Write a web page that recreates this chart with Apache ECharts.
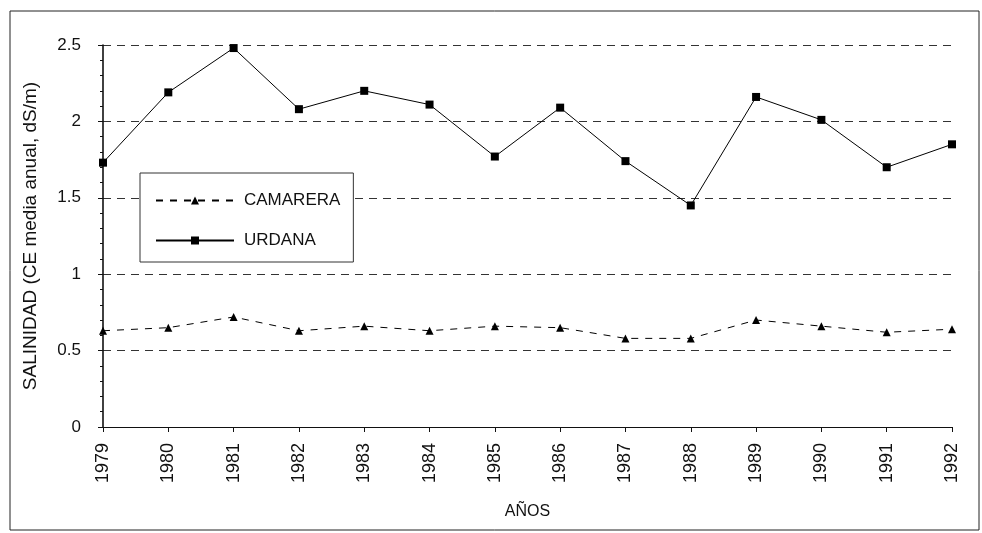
<!DOCTYPE html>
<html><head><meta charset="utf-8">
<script src="https://cdn.jsdelivr.net/npm/echarts@6/dist/echarts.min.js"></script>
<style>html,body{margin:0;padding:0;background:#fff}#c{width:982px;height:533px}</style>
</head><body><div id="c"></div>
<script>
const years = ['1979','1980','1981','1982','1983','1984','1985','1986','1987','1988','1989','1990','1991','1992'];
const camarera = [0.63,0.65,0.72,0.63,0.66,0.63,0.66,0.65,0.58,0.58,0.70,0.66,0.62,0.64];
const urdana = [1.73,2.19,2.48,2.08,2.20,2.11,1.77,2.09,1.74,1.45,2.16,2.01,1.70,1.85];
const yLabels = {'0':'0','0.5':'0.5','1':'1','1.5':'1.5','2':'2','2.5':'2.5'};

const chart = echarts.init(document.getElementById('c'));
const font = 'Liberation Sans, Arial, sans-serif';
chart.setOption({
  animation:false,
  backgroundColor:'#fff',
  graphic:[{type:'rect',shape:{x:10,y:11,width:969,height:519},style:{fill:'none',stroke:'#222',lineWidth:1}}],
  grid:{left:103,right:30,top:45,bottom:106},
  legend:{
    orient:'vertical',left:140,top:173,
    padding:[19,13,13,15],itemGap:23,itemWidth:78,itemHeight:10,
    borderColor:'#333',borderWidth:1,backgroundColor:'#fff',
    textStyle:{fontFamily:font,fontSize:17,color:'#111',lineHeight:16,padding:[0,0,0,5]},
    data:['CAMARERA','URDANA']
  },
  xAxis:{type:'category',data:years,boundaryGap:false,
    name:'AÑOS',nameLocation:'middle',nameGap:77,
    nameTextStyle:{fontFamily:font,fontSize:16,color:'#111'},
    axisLine:{lineStyle:{color:'#111',width:1.2}},
    axisTick:{show:true,inside:false,length:5,lineStyle:{color:'#111'}},
    axisLabel:{rotate:90,margin:16,fontFamily:font,fontSize:18,color:'#111'}
  },
  yAxis:{type:'value',min:0,max:2.5,interval:0.5,
    name:'SALINIDAD (CE media anual, dS/m)',nameLocation:'middle',nameGap:63,
    nameTextStyle:{fontFamily:font,fontSize:19,color:'#111'},
    axisLine:{show:true,lineStyle:{color:'#111',width:1.6}},
    axisTick:{show:true,length:5,lineStyle:{color:'#111'}},
    minorTick:{show:true,splitNumber:5,length:3,lineStyle:{color:'#111'}},
    axisLabel:{margin:22,fontFamily:font,fontSize:17,color:'#111',formatter:v=>yLabels[String(v)]},
    splitLine:{show:true,lineStyle:{color:'#333',type:[8,6],width:1}}
  },
  series:[
    {name:'CAMARERA',type:'line',data:camarera,symbol:'triangle',symbolSize:8,
      itemStyle:{color:'#000'},lineStyle:{color:'#000',width:1,type:[7,7]}},
    {name:'URDANA',type:'line',data:urdana,symbol:'rect',symbolSize:8,
      itemStyle:{color:'#000'},lineStyle:{color:'#000',width:1}}
  ]
});
</script></body></html>
